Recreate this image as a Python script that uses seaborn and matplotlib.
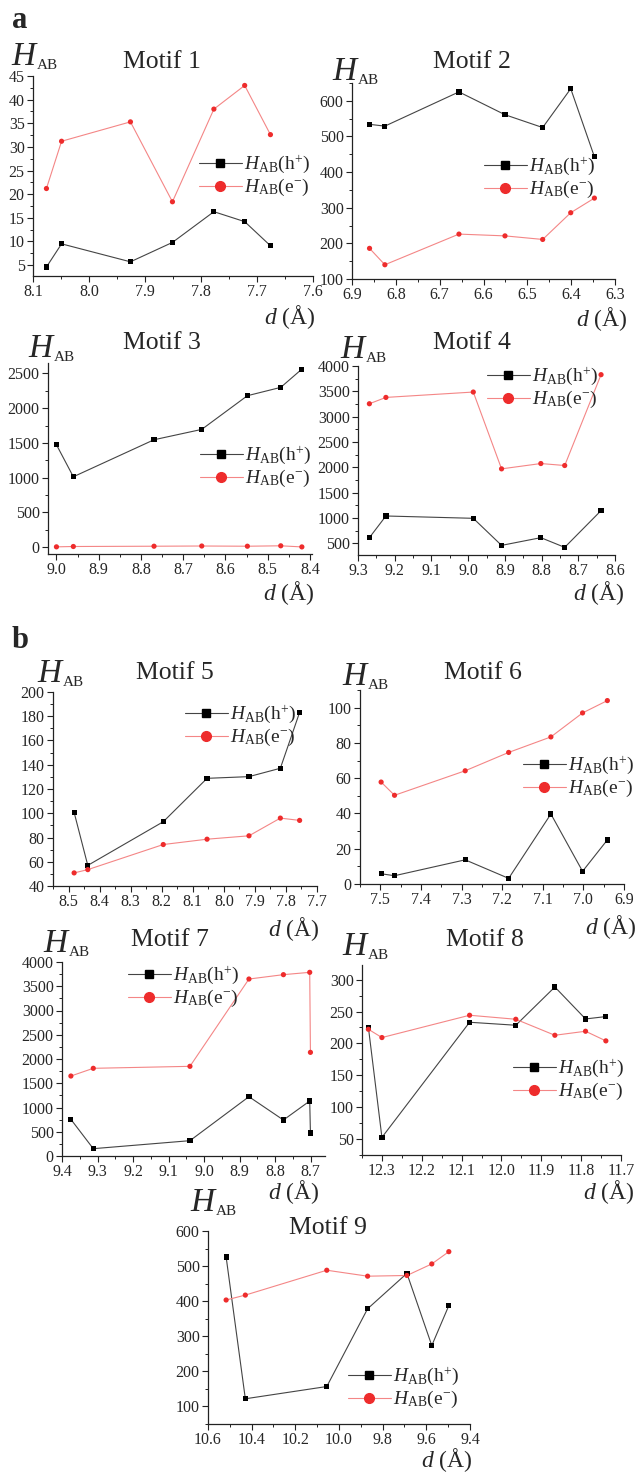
import matplotlib
matplotlib.use("Agg")
import matplotlib.pyplot as plt
import seaborn as sns
import pandas as pd
from matplotlib.lines import Line2D
from matplotlib.ticker import MultipleLocator, FormatStrFormatter

# Motif 1
d1 = [8.076, 8.049, 7.926, 7.851, 7.777, 7.722, 7.676]
h1 = [4.6, 9.5, 5.7, 9.8, 16.3, 14.2, 9.1]
e1 = [21.2, 31.2, 35.3, 18.4, 38.0, 43.0, 32.6]
# Motif 2
d2 = [6.860, 6.825, 6.656, 6.551, 6.465, 6.401, 6.347]
h2 = [534, 529, 625, 561, 525, 634, 443]
e2 = [186, 140, 226, 221, 211, 286, 327]
# Motif 3
d3 = [9.000, 8.960, 8.769, 8.656, 8.548, 8.469, 8.419]
h3 = [1473, 1012, 1545, 1694, 2179, 2299, 2562]
e3 = [3, 8, 12, 15, 12, 18, 2]
# Motif 4
d4 = [9.269, 9.224, 8.986, 8.909, 8.802, 8.737, 8.638]
h4 = [612, 1040, 994, 460, 612, 421, 1146]
e4 = [3255, 3380, 3486, 1970, 2075, 2036, 3829]
# Motif 5
d5 = [8.482, 8.438, 8.195, 8.054, 7.919, 7.818, 7.756]
h5 = [100.7, 57.0, 93.0, 128.8, 130.2, 137.1, 183.2]
e5 = [50.8, 53.5, 74.2, 78.6, 81.4, 96.0, 94.1]
# Motif 6
d6 = [7.498, 7.465, 7.291, 7.184, 7.080, 7.002, 6.941]
h6 = [5.8, 4.7, 13.7, 3.2, 39.7, 7.2, 25.0]
e6 = [57.8, 50.3, 64.2, 74.6, 83.4, 97.0, 104.0]
# Motif 7
d7 = [9.375, 9.312, 9.040, 8.874, 8.777, 8.703, 8.701]
h7 = [756, 151, 316, 1223, 742, 1134, 474]
e7 = [1649, 1808, 1849, 3649, 3739, 3787, 2137]
# Motif 8
d8 = [12.334, 12.300, 12.080, 11.964, 11.866, 11.789, 11.738]
h8 = [225.4, 52.6, 233.2, 228.5, 288.5, 238.4, 242.1]
e8 = [222.2, 209.2, 244.2, 237.9, 212.8, 219.1, 204.0]
# Motif 9
d9 = [10.517, 10.429, 10.056, 9.869, 9.689, 9.575, 9.497]
h9 = [526, 121, 156, 378, 479, 273, 387]
e9 = [403, 417, 488, 471, 473, 506, 541]

titles = ["Motif 1", "Motif 2", "Motif 3", "Motif 4", "Motif 5",
          "Motif 6", "Motif 7", "Motif 8", "Motif 9"]
legend_labels = [r"$H_{\mathrm{AB}}(\mathrm{h}^{+})$", r"$H_{\mathrm{AB}}(\mathrm{e}^{-})$"]

sns.set_style("ticks")
plt.rcParams["font.family"] = ["Liberation Serif", "DejaVu Serif"]
plt.rcParams["mathtext.fontset"] = "custom"
plt.rcParams["mathtext.rm"] = "Liberation Serif"
plt.rcParams["mathtext.it"] = "Liberation Serif:italic"

W, H = 641, 1475
fig = plt.figure(figsize=(W / 100, H / 100), dpi=100)


def px(x, y):
    return x / W, 1 - y / H


# axes box (l, t, r, b) in pixels, ylim, y major/minor, xlim, x major/minor,
# H_AB pos, title pos, legend pos, d label pos
layout = [
    ((33, 76, 313, 276), (2.7, 45), 5, 2.5, (8.1, 7.6), 0.1, 0.05, (11, 65), (162, 62), (199, 176), (316, 317)),
    ((352, 83, 615, 279), (100, 650), 100, 50, (6.9, 6.3), 0.1, 0.05, (332, 80), (472, 62), (484, 178), (628, 319)),
    ((48, 363, 312, 554), (-100, 2650), 500, 250, (9.02, 8.395), 0.1, 0.05, (28, 357), (162, 343), (200, 467), (315, 593)),
    ((358, 366, 615, 555), (270, 4000), 500, 250, (9.3, 8.6), 0.1, 0.05, (340, 358), (472, 343), (487, 388), (625, 593)),
    ((53, 692, 317, 886), (40, 200), 20, 10, (8.55, 7.7), 0.1, 0.05, (37, 682), (175, 673), (185, 726), (320, 929)),
    ((360, 690, 624, 884), (0, 110), 20, 10, (7.55, 6.9), 0.1, 0.05, (342, 685), (483, 673), (523, 777), (637, 927)),
    ((62, 962, 325, 1156), (0, 4000), 500, 250, (9.4, 8.66), 0.1, 0.05, (43, 952), (170, 940), (128, 987), (320, 1192)),
    ((362, 965, 621, 1155), (25, 323), 50, 25, (12.35, 11.7), 0.1, 0.05, (342, 955), (485, 940), (513, 1080), (635, 1192)),
    ((208, 1231, 470, 1424), (49, 600), 100, 50, (10.6, 9.4), 0.2, 0.1, (190, 1211), (328, 1228), (348, 1388), (473, 1460)),
]

series = [(d1, h1, e1), (d2, h2, e2), (d3, h3, e3), (d4, h4, e4), (d5, h5, e5),
          (d6, h6, e6), (d7, h7, e7), (d8, h8, e8), (d9, h9, e9)]

line_pal = {"h": "#444444", "e": "#f48686"}
mark_pal = {"h": "#000000", "e": "#ee2c2c"}

handles = [
    Line2D([], [], color="#444444", lw=0.8, marker="s", markersize=6,
           markerfacecolor="black", markeredgecolor="black"),
    Line2D([], [], color="#f48686", lw=0.8, marker="o", markersize=7,
           markerfacecolor="#ee2c2c", markeredgecolor="#ee2c2c"),
]

for (d, h, e), title, lay in zip(series, titles, layout):
    box, ylim, ymaj, ymin, xlim, xmaj, xmin, hpos, tpos, lpos, dpos = lay
    l, t, r, b = box
    ax = fig.add_axes([l / W, 1 - b / H, (r - l) / W, (b - t) / H])

    n = len(d)
    df = pd.DataFrame({"d": d + d, "H": h + e, "carrier": ["h"] * n + ["e"] * n})

    sns.lineplot(data=df, x="d", y="H", hue="carrier", palette=line_pal,
                 sort=False, estimator=None, lw=0.8, legend=False, ax=ax)
    sns.scatterplot(data=df, x="d", y="H", hue="carrier", style="carrier",
                    markers={"h": "s", "e": "o"}, palette=mark_pal, s=14,
                    linewidth=0, legend=False, ax=ax, zorder=3)

    ax.set_xlim(*xlim)
    ax.set_ylim(*ylim)
    ax.xaxis.set_major_locator(MultipleLocator(xmaj))
    ax.xaxis.set_minor_locator(MultipleLocator(xmin))
    ax.xaxis.set_major_formatter(FormatStrFormatter("%.1f"))
    ax.yaxis.set_major_locator(MultipleLocator(ymaj))
    ax.yaxis.set_minor_locator(MultipleLocator(ymin))
    ax.set_xlabel("")
    ax.set_ylabel("")
    sns.despine(ax=ax)
    for s in ["left", "bottom"]:
        ax.spines[s].set_linewidth(0.9)
        ax.spines[s].set_color("#222222")
    ax.tick_params(which="major", length=4, width=0.8, labelsize=11.5, pad=2,
                   color="#222222")
    ax.tick_params(which="minor", length=2, width=0.7, color="#222222")

    ax.legend(handles, legend_labels, loc="center left",
              bbox_to_anchor=px(*lpos), bbox_transform=fig.transFigure,
              frameon=False, fontsize=14, handlelength=2.2, handletextpad=0.1,
              labelspacing=0.1, borderpad=0, borderaxespad=0)

    # H_AB label: big italic H with a small AB subscript
    ht = fig.text(*px(*hpos), "H", fontsize=24, style="italic", va="baseline")
    ax.annotate("AB", xy=(1, 0), xycoords=ht, xytext=(1, 2),
                textcoords="offset points", fontsize=11, va="baseline")

    fig.text(*px(*tpos), title, fontsize=18.5, ha="center", va="center")
    fig.text(*px(*dpos), r"$d$ (Å)", fontsize=17, ha="right", va="center")

fig.text(*px(12, 28), "a", fontsize=22, fontweight="bold", va="baseline")
fig.text(*px(12, 648), "b", fontsize=22, fontweight="bold", va="baseline")

fig.savefig("out.png", dpi=100)
